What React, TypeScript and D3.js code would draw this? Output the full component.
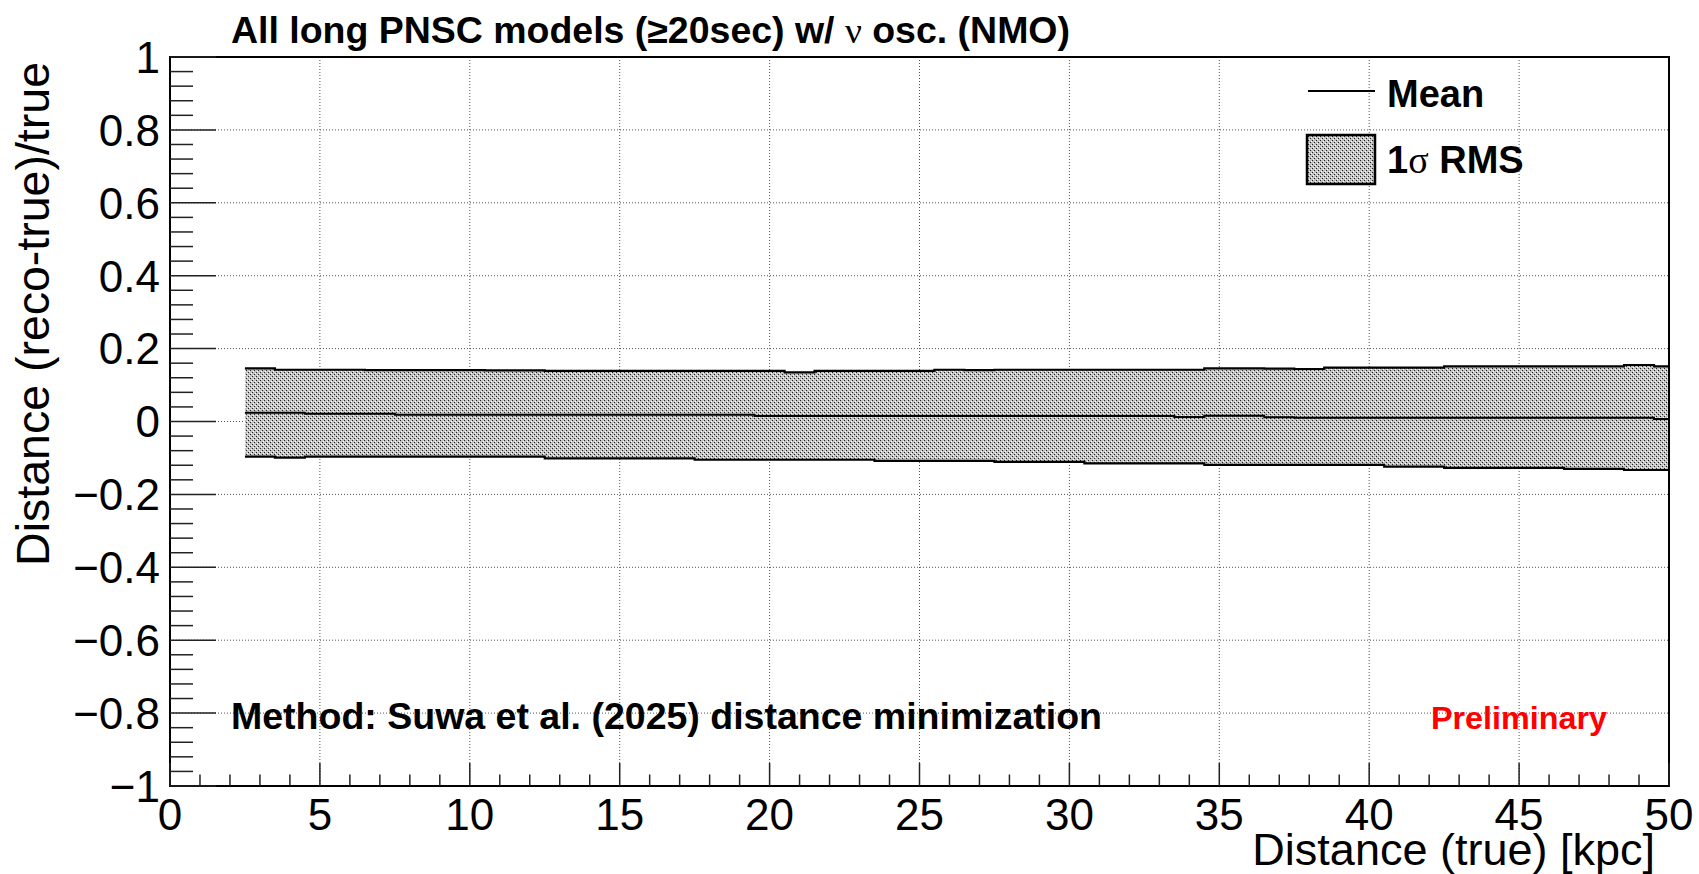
import React from "react";
import * as d3 from "d3";

// Distance bins (kpc), centres
const distances = [3,4,5,6,7,8,9,10,11,12,13,14,15,16,17,18,19,20,21,22,23,24,25,26,27,28,29,30,31,32,33,34,35,36,37,38,39,40,41,42,43,44,45,46,47,48,49,50];
const upperRMS = [0.146,0.142,0.142,0.142,0.141,0.141,0.141,0.141,0.140,0.140,0.139,0.139,0.139,0.139,0.139,0.139,0.139,0.139,0.135,0.139,0.139,0.139,0.139,0.142,0.141,0.142,0.142,0.142,0.142,0.142,0.142,0.142,0.146,0.146,0.145,0.144,0.148,0.148,0.148,0.148,0.151,0.151,0.151,0.151,0.151,0.151,0.155,0.151];
const meanVals = [0.024,0.024,0.0215,0.0215,0.0215,0.0187,0.0187,0.0187,0.0187,0.0187,0.0187,0.0187,0.0187,0.0187,0.0187,0.0187,0.0187,0.015,0.015,0.015,0.015,0.015,0.015,0.015,0.015,0.015,0.015,0.015,0.015,0.015,0.015,0.0123,0.0155,0.0155,0.012,0.0105,0.0105,0.0105,0.0105,0.0105,0.0105,0.0105,0.0105,0.0105,0.0105,0.0105,0.0105,0.007];
const lowerRMS = [-0.0965,-0.099,-0.0965,-0.0965,-0.0965,-0.0965,-0.0965,-0.0965,-0.0965,-0.0965,-0.101,-0.101,-0.101,-0.101,-0.101,-0.105,-0.105,-0.105,-0.105,-0.105,-0.105,-0.108,-0.108,-0.108,-0.108,-0.111,-0.111,-0.111,-0.115,-0.115,-0.115,-0.115,-0.119,-0.119,-0.119,-0.119,-0.119,-0.119,-0.124,-0.124,-0.127,-0.127,-0.127,-0.127,-0.130,-0.130,-0.133,-0.133];

const xMajorTicks = [0,5,10,15,20,25,30,35,40,45,50];
const yMajorTicks = [1,0.8,0.6,0.4,0.2,0,-0.2,-0.4,-0.6,-0.8,-1];
const binHalfWidth = 0.5;

const W = 1699, H = 874;
const M = { left: 170, right: 1669, top: 57, bottom: 786 };
const FONT = "'Liberation Sans', Arial, Helvetica, sans-serif";

const fmt = (v: number) => {
  const s = d3.format("~g")(v);
  return s.replace("-", "\u2212");
};

export default function App() {
  const x = d3.scaleLinear().domain([0, 50]).range([M.left, M.right]);
  const y = d3.scaleLinear().domain([-1, 1]).range([M.bottom, M.top]);

  // step points: each bin spans [d-0.5, d+0.5], clipped to axis range
  type P = { x: number; u: number; m: number; l: number };
  const pts: P[] = [];
  distances.forEach((d, i) => {
    const x0 = Math.max(d - binHalfWidth, 0);
    const x1 = Math.min(d + binHalfWidth, 50);
    pts.push({ x: x0, u: upperRMS[i], m: meanVals[i], l: lowerRMS[i] });
    pts.push({ x: x1, u: upperRMS[i], m: meanVals[i], l: lowerRMS[i] });
  });

  const area = d3.area<P>().x((p) => x(p.x)).y0((p) => y(p.l)).y1((p) => y(p.u));
  const lineU = d3.line<P>().x((p) => x(p.x)).y((p) => y(p.u));
  const lineL = d3.line<P>().x((p) => x(p.x)).y((p) => y(p.l));
  const lineM = d3.line<P>().x((p) => x(p.x)).y((p) => y(p.m));

  const xMinor = d3.range(0, 51, 1).filter((v) => v % 5 !== 0);
  const yMinor = d3.range(-1, 1.0001, 0.04).filter((v) => Math.abs(Math.round(v * 5) - v * 5) > 1e-6);

  const gridColor = "#555";

  return (
    <svg width={W} height={H} style={{ position: "absolute", left: 0, top: 0, display: "block", background: "#fff" }} fontFamily={FONT}>
      <defs>
        <pattern id="fillPat" width={4} height={4} patternUnits="userSpaceOnUse">
          <rect width={4} height={4} fill="#c2c2c2" />
          <rect x={0} y={0} width={1} height={1} fill="#222" />
          <rect x={2} y={2} width={1} height={1} fill="#222" />
          <rect x={1} y={3} width={1} height={1} fill="#fff" />
          <rect x={3} y={1} width={1} height={1} fill="#fff" />
        </pattern>
        <clipPath id="plotClip">
          <rect x={M.left} y={M.top} width={M.right - M.left} height={M.bottom - M.top} />
        </clipPath>
      </defs>
      <rect x={0} y={0} width={W} height={H} fill="#fff" />

      {/* grid */}
      <g stroke={gridColor} strokeWidth={1} strokeDasharray="1 2">
        {xMajorTicks.map((t) => (
          <line key={"gx" + t} x1={x(t)} x2={x(t)} y1={M.top} y2={M.bottom} />
        ))}
        {yMajorTicks.map((t) => (
          <line key={"gy" + t} x1={M.left} x2={M.right} y1={y(t)} y2={y(t)} />
        ))}
      </g>

      {/* band */}
      <g clipPath="url(#plotClip)">
        <path d={area(pts) || ""} fill="url(#fillPat)" />
        <path d={lineU(pts) || ""} fill="none" stroke="#000" strokeWidth={2.2} />
        <path d={lineL(pts) || ""} fill="none" stroke="#000" strokeWidth={2.2} />
        <path d={lineM(pts) || ""} fill="none" stroke="#000" strokeWidth={2} />
      </g>

      {/* frame */}
      <rect x={M.left} y={M.top} width={M.right - M.left} height={M.bottom - M.top} fill="none" stroke="#000" strokeWidth={2} />

      {/* ticks */}
      <g stroke="#222" strokeWidth={1.5}>
        {xMajorTicks.map((t) => (
          <line key={"xt" + t} x1={x(t)} x2={x(t)} y1={M.bottom} y2={M.bottom - 23} />
        ))}
        {xMinor.map((t) => (
          <line key={"xm" + t} x1={x(t)} x2={x(t)} y1={M.bottom} y2={M.bottom - 11.5} />
        ))}
        {yMajorTicks.map((t) => (
          <line key={"yt" + t} x1={M.left} x2={M.left + 46} y1={y(t)} y2={y(t)} />
        ))}
        {yMinor.map((t, i) => (
          <line key={"ym" + i} x1={M.left} x2={M.left + 23} y1={y(t)} y2={y(t)} />
        ))}
      </g>

      {/* tick labels */}
      <g fontSize={44} fill="#000">
        {xMajorTicks.map((t) => (
          <text key={"xl" + t} x={x(t)} y={M.bottom + 44} textAnchor="middle">{fmt(t)}</text>
        ))}
        {yMajorTicks.map((t) => (
          <text key={"yl" + t} x={M.left - 10} y={y(t)} dy="0.36em" textAnchor="end">{fmt(t)}</text>
        ))}
      </g>

      {/* axis titles */}
      <text x={1655} y={865} fontSize={45} textAnchor="end">Distance (true) [kpc]</text>
      <text transform="translate(49,62) rotate(-90)" fontSize={46.5} textAnchor="end">Distance (reco-true)/true</text>

      {/* title */}
      <text x={231} y={43} fontSize={36} fontWeight="bold" textLength={839} lengthAdjust="spacingAndGlyphs">
        All long PNSC models (≥20sec) w/ <tspan fontFamily="'Liberation Serif', serif" fontWeight="normal">ν</tspan> osc. (NMO)
      </text>

      {/* method text */}
      <text x={231} y={729} fontSize={36} fontWeight="bold" textLength={871} lengthAdjust="spacingAndGlyphs">
        Method: Suwa et al. (2025) distance minimization
      </text>
      <text x={1431} y={729} fontSize={32} fontWeight="bold" fill="#ff0000" textLength={176} lengthAdjust="spacingAndGlyphs">
        Preliminary
      </text>

      {/* legend */}
      <line x1={1308} x2={1375} y1={91} y2={91} stroke="#000" strokeWidth={2} />
      <text x={1387} y={107} fontSize={38} fontWeight="bold">Mean</text>
      <rect x={1307} y={135} width={68} height={49} fill="url(#fillPat)" stroke="#000" strokeWidth={2.5} />
      <text x={1387} y={173} fontSize={38} fontWeight="bold">
        1<tspan fontFamily="'Liberation Serif', serif" fontWeight="normal">σ</tspan> RMS
      </text>
    </svg>
  );
}
